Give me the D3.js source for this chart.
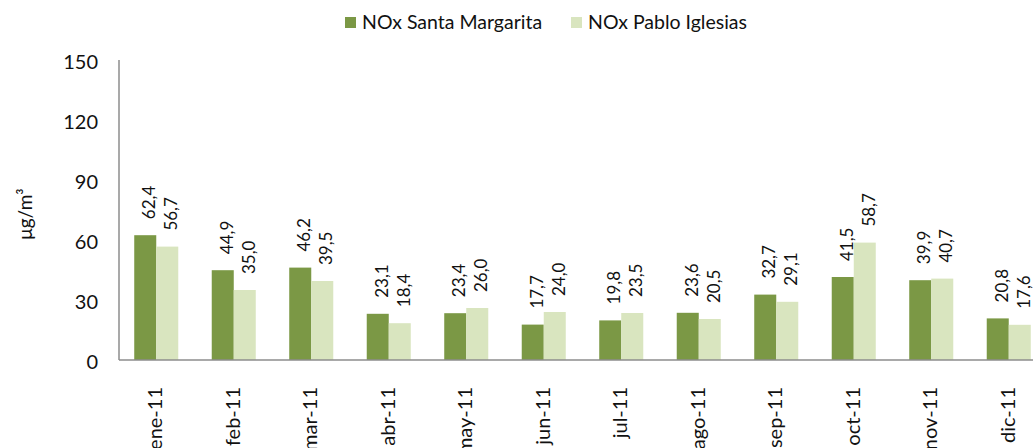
<!DOCTYPE html>
<html lang="es">
<head>
<meta charset="UTF-8">
<title>NOx</title>
<script src="https://cdn.jsdelivr.net/npm/d3@7"></script>
<style>
  body { margin: 0; background: #fff; }
  text { font-family: Lato, "Open Sans", sans-serif; fill: #111; }
</style>
</head>
<body>
<script>
var months = ["ene-11", "feb-11", "mar-11", "abr-11", "may-11", "jun-11",
              "jul-11", "ago-11", "sep-11", "oct-11", "nov-11", "dic-11"];
var seriesNames = ["NOx Santa Margarita", "NOx Pablo Iglesias"];
var santaMargarita = [62.4, 44.9, 46.2, 23.1, 23.4, 17.7, 19.8, 23.6, 32.7, 41.5, 39.9, 20.8];
var pabloIglesias = [56.7, 35.0, 39.5, 18.4, 26.0, 24.0, 23.5, 20.5, 29.1, 58.7, 40.7, 17.6];
var yTicks = [0, 30, 60, 90, 120, 150];
var colors = ["#7b9845", "#d9e5bf"];

var w = 1033, h = 448;
var svg = d3.select("body").append("svg").attr("width", w).attr("height", h);

var step = 77.5;
var x = d3.scaleBand().domain(months)
    .range([117.5, 117.5 + step * months.length])
    .paddingInner(0.432).paddingOuter(0.216);
var xs = d3.scaleBand().domain(seriesNames).range([0, x.bandwidth()]);
var y = d3.scaleLinear().domain([0, 150]).range([360, 60]);

var rows = months.map(function (m, i) {
    return { month: m, vals: [santaMargarita[i], pabloIglesias[i]] };
});

// bars
var groups = svg.selectAll("g.grp").data(rows).enter().append("g")
    .attr("class", "grp")
    .attr("transform", function (d) { return "translate(" + x(d.month) + ",0)"; });

groups.selectAll("rect").data(function (d) { return d.vals; }).enter().append("rect")
    .attr("x", function (d, i) { return xs(seriesNames[i]); })
    .attr("y", function (d) { return y(d); })
    .attr("width", xs.bandwidth())
    .attr("height", function (d) { return y(0) - y(d); })
    .attr("fill", function (d, i) { return colors[i]; });

// value labels (rotated)
groups.selectAll("text.val").data(function (d) { return d.vals; }).enter().append("text")
    .attr("class", "val")
    .attr("transform", function (d, i) {
        var bx = xs(seriesNames[i]) + xs.bandwidth() - 1;
        return "translate(" + bx + "," + (y(d) - 16) + ") rotate(-90)";
    })
    .attr("font-size", 17)
    .text(function (d) { return d.toFixed(1).replace(".", ","); });

// axes
var axisCol = "#8c8c8c";
svg.append("line").attr("x1", 119).attr("x2", 119).attr("y1", y(150)).attr("y2", y(0))
    .attr("stroke", axisCol).attr("stroke-width", 1.5);
svg.append("line").attr("x1", 119).attr("x2", w).attr("y1", y(0)).attr("y2", y(0))
    .attr("stroke", axisCol).attr("stroke-width", 1.5);

svg.selectAll("text.ytick").data(yTicks).enter().append("text")
    .attr("class", "ytick")
    .attr("x", 98)
    .attr("y", function (d) { return y(d) + 2; })
    .attr("dy", "0.36em")
    .attr("text-anchor", "end")
    .attr("font-size", 20)
    .text(function (d) { return d; });

svg.selectAll("text.xtick").data(months).enter().append("text")
    .attr("class", "xtick")
    .attr("transform", function (d) {
        return "translate(" + (x(d) + x.bandwidth() / 2 + 6) + ",387) rotate(-90)";
    })
    .attr("text-anchor", "end")
    .attr("font-size", 20)
    .text(function (d) { return d; });

// y title
svg.append("text")
    .attr("transform", "translate(32,214) rotate(-90)")
    .attr("text-anchor", "middle")
    .attr("font-size", 19)
    .text("μg/m³");

// legend
var legX = [345, 571];
var leg = svg.selectAll("g.leg").data(seriesNames).enter().append("g")
    .attr("class", "leg")
    .attr("transform", function (d, i) { return "translate(" + legX[i] + ",17)"; });
leg.append("rect").attr("width", 11).attr("height", 11)
    .attr("fill", function (d, i) { return colors[i]; });
leg.append("text").attr("x", 17).attr("y", 12).attr("font-size", 19.5)
    .text(function (d) { return d; });
</script>
</body>
</html>
